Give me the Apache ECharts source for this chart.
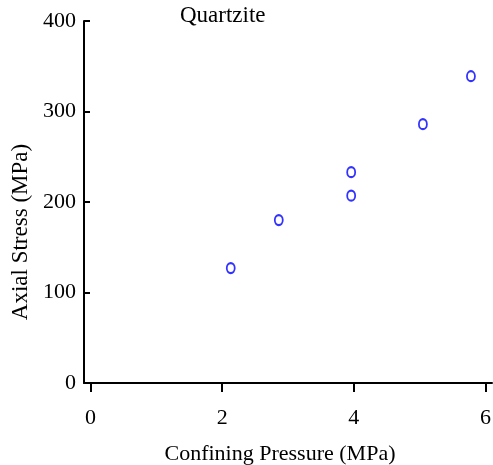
<!DOCTYPE html>
<html>
<head>
<meta charset="utf-8">
<script src="https://cdn.jsdelivr.net/npm/echarts@6/dist/echarts.min.js"></script>
<style>
html,body{margin:0;padding:0;background:#fff;}
#chart{width:493px;height:465px;}
</style>
</head>
<body>
<div id="chart"></div>
<script>
var titleText = 'Quartzite';
var xName = 'Confining Pressure (MPa)';
var yName = 'Axial Stress (MPa)';
var confiningPressure = [2.13, 2.86, 3.96, 3.96, 5.05, 5.78];
var axialStress = [127, 180, 207, 233, 286, 339];
var xTicks = [0, 2, 4, 6];
var yTicks = [0, 100, 200, 300, 400];

var points = confiningPressure.map(function (x, i) { return [x, axialStress[i]]; });
var font = 'Liberation Serif, Times New Roman, serif';

var chart = echarts.init(document.getElementById('chart'));
chart.setOption({
  animation: false,
  backgroundColor: '#fff',
  title: {
    text: titleText,
    left: 180,
    top: 4,
    padding: 0,
    textStyle: { fontFamily: font, fontSize: 23, fontWeight: 'normal', color: '#000' }
  },
  grid: { left: 84, right: 1, top: 21, bottom: 82, containLabel: false, outerBoundsMode: 'none' },
  xAxis: {
    type: 'value',
    min: -0.1,
    max: 6.1,
    name: xName,
    nameLocation: 'middle',
    nameGap: 60,
    nameTextStyle: { fontFamily: font, fontSize: 22, color: '#000', padding: [0, 16, 0, 0] },
    axisLine: { show: true, onZero: false, lineStyle: { color: '#000', width: 2 } },
    axisTick: { show: true, inside: false, length: 9, customValues: xTicks, lineStyle: { color: '#000', width: 2 } },
    axisLabel: { customValues: xTicks, margin: 24, fontFamily: font, fontSize: 22, color: '#000' },
    splitLine: { show: false }
  },
  yAxis: {
    type: 'value',
    min: 0,
    max: 400,
    interval: 100,
    name: yName,
    nameLocation: 'middle',
    nameGap: 45,
    nameRotate: 90,
    nameTextStyle: { fontFamily: font, fontSize: 23, color: '#000', padding: [0, 60, 0, 0] },
    axisLine: { show: true, onZero: false, lineStyle: { color: '#000', width: 2 } },
    axisTick: { show: true, inside: true, length: 6, lineStyle: { color: '#000', width: 2 } },
    axisLabel: { margin: 8, fontFamily: font, fontSize: 22, color: '#000' },
    splitLine: { show: false }
  },
  series: [{
    type: 'scatter',
    data: points,
    symbol: 'emptyCircle',
    symbolSize: [8, 10],
    itemStyle: { color: '#0000ff', borderColor: '#0000ff', borderWidth: 2.6 }
  }]
});
</script>
</body>
</html>
